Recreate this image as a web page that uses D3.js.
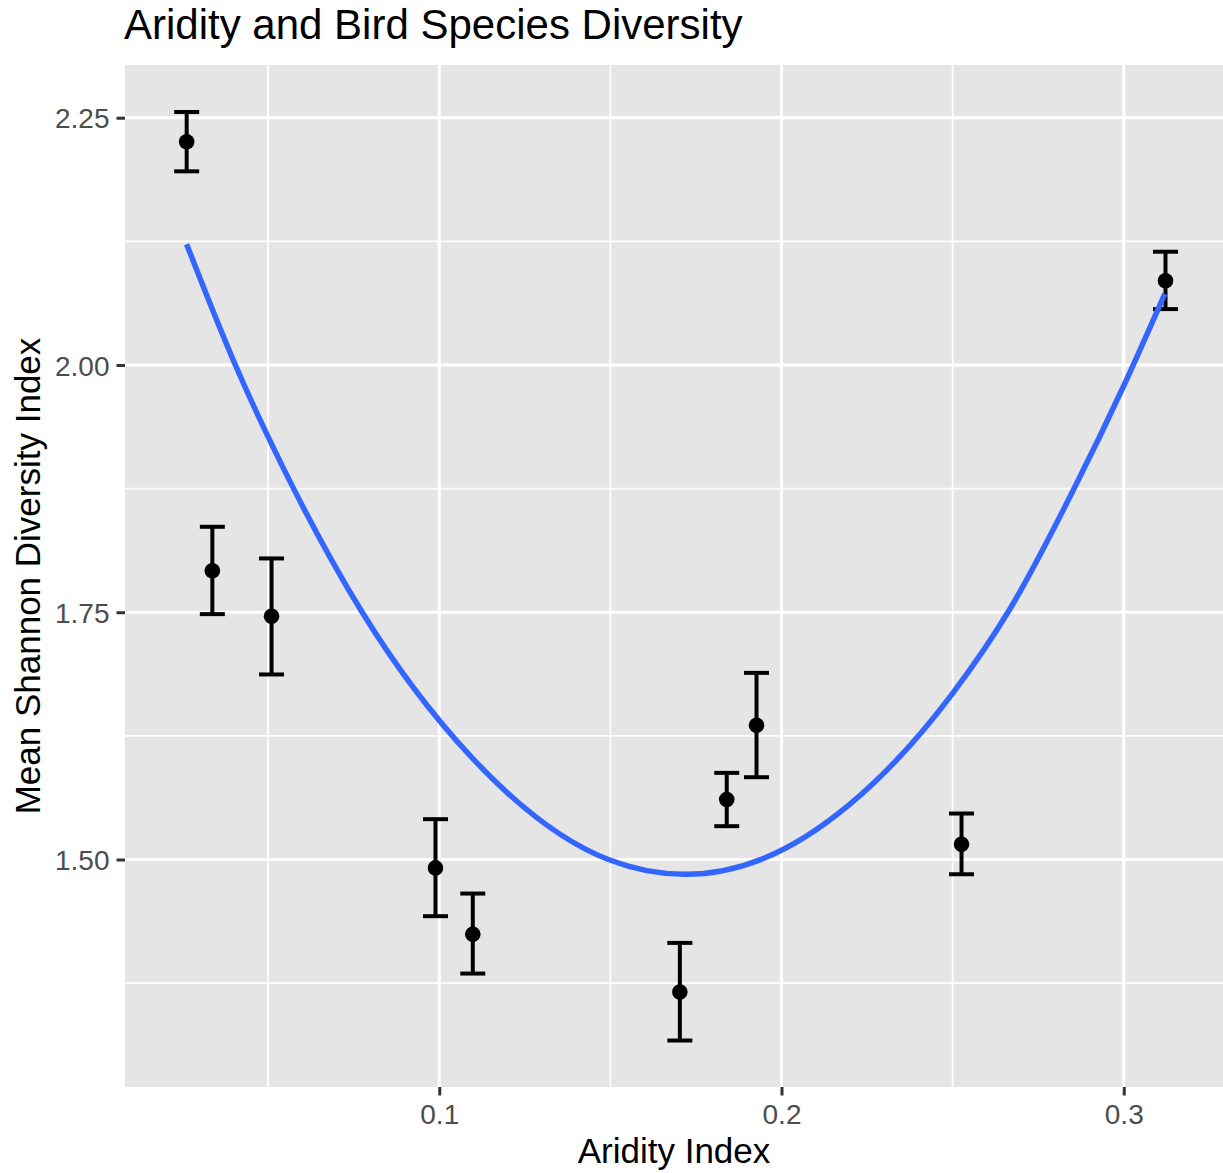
<!DOCTYPE html>
<html>
<head>
<meta charset="utf-8">
<script src="https://cdn.jsdelivr.net/npm/d3@7"></script>
<style>
  body { margin: 0; background: #fff; }
  text { font-family: "Liberation Sans", Arial, Helvetica, sans-serif; }
</style>
</head>
<body>
<svg id="chart" width="1223" height="1173"></svg>
<script>
// site means with error bar limits
const aridity = [0.0262, 0.0337, 0.0510, 0.0989, 0.1098, 0.1703, 0.1840, 0.1927, 0.2526, 0.3122];
const meanShannon = [2.2257, 1.7919, 1.7460, 1.4915, 1.4245, 1.3661, 1.5607, 1.6358, 1.5155, 2.0852];
const lower = [2.1958, 1.7481, 1.6871, 1.4427, 1.3847, 1.3170, 1.5337, 1.5832, 1.4851, 2.0565];
const upper = [2.2558, 1.8364, 1.8044, 1.5408, 1.4656, 1.4157, 1.5876, 1.6887, 1.5465, 2.1145];

// fitted curve
const fitX = [0.0262, 0.0403, 0.0573, 0.0773, 0.1090, 0.1494, 0.1718, 0.1947, 0.2200, 0.2500, 0.2667, 0.2852, 0.3000, 0.3120];
const fitY = [2.122, 2.001, 1.876, 1.751, 1.605, 1.500, 1.485, 1.501, 1.556, 1.668, 1.753, 1.873, 1.979, 2.072];

const xTicks = [0.1, 0.2, 0.3];
const xMinor = [0.05, 0.15, 0.25];
const yTicks = [1.5, 1.75, 2.0, 2.25];
const yMinor = [1.375, 1.625, 1.875, 2.125];

const panel = { left: 125, right: 1223, top: 65, bottom: 1087 };

const svg = d3.select("#chart");

const x = d3.scaleLinear().domain([0.00818, 0.3290]).range([panel.left, panel.right]);
const y = d3.scaleLinear().domain([1.270, 2.3033]).range([panel.bottom, panel.top]);

// panel background
svg.append("rect")
    .attr("x", panel.left)
    .attr("y", panel.top)
    .attr("width", panel.right - panel.left)
    .attr("height", panel.bottom - panel.top)
    .attr("fill", "#E5E5E5");

const grid = svg.append("g").attr("stroke", "#fff");

grid.selectAll(".vminor").data(xMinor).join("line")
    .attr("x1", d => x(d)).attr("x2", d => x(d))
    .attr("y1", panel.top).attr("y2", panel.bottom)
    .attr("stroke-width", 1.7);

grid.selectAll(".hminor").data(yMinor).join("line")
    .attr("y1", d => y(d)).attr("y2", d => y(d))
    .attr("x1", panel.left).attr("x2", panel.right)
    .attr("stroke-width", 1.7);

grid.selectAll(".vmajor").data(xTicks).join("line")
    .attr("x1", d => x(d)).attr("x2", d => x(d))
    .attr("y1", panel.top).attr("y2", panel.bottom)
    .attr("stroke-width", 3.2);

grid.selectAll(".hmajor").data(yTicks).join("line")
    .attr("y1", d => y(d)).attr("y2", d => y(d))
    .attr("x1", panel.left).attr("x2", panel.right)
    .attr("stroke-width", 3.2);

// axes
const xAxis = d3.axisBottom(x)
    .tickValues(xTicks)
    .tickFormat(d3.format(".1f"))
    .tickSizeInner(8.5)
    .tickSizeOuter(0)
    .tickPadding(7);

const yAxis = d3.axisLeft(y)
    .tickValues(yTicks)
    .tickFormat(d3.format(".2f"))
    .tickSizeInner(8.5)
    .tickSizeOuter(0)
    .tickPadding(7);

const gx = svg.append("g")
    .attr("transform", `translate(0,${panel.bottom})`)
    .call(xAxis);

const gy = svg.append("g")
    .attr("transform", `translate(${panel.left},0)`)
    .call(yAxis);

[gx, gy].forEach(g => {
    g.select(".domain").remove();
    g.selectAll(".tick line").attr("stroke", "#333").attr("stroke-width", 3);
    g.selectAll(".tick text")
        .attr("fill", "#4D4D4D")
        .style("font-size", "28px")
        .style("font-family", '"Liberation Sans", Arial, Helvetica, sans-serif');
});
gx.selectAll(".tick text").attr("dy", "0.76em");
gy.selectAll(".tick text").attr("dy", "0.36em");

// error bars
const idx = d3.range(aridity.length);
const capHalf = 12.5;

const bars = svg.append("g")
    .attr("stroke", "#000")
    .attr("stroke-width", 4)
    .attr("fill", "none");

bars.selectAll(".stem").data(idx).join("line")
    .attr("x1", i => x(aridity[i])).attr("x2", i => x(aridity[i]))
    .attr("y1", i => y(lower[i])).attr("y2", i => y(upper[i]));

bars.selectAll(".capTop").data(idx).join("line")
    .attr("x1", i => x(aridity[i]) - capHalf).attr("x2", i => x(aridity[i]) + capHalf)
    .attr("y1", i => y(upper[i])).attr("y2", i => y(upper[i]));

bars.selectAll(".capBottom").data(idx).join("line")
    .attr("x1", i => x(aridity[i]) - capHalf).attr("x2", i => x(aridity[i]) + capHalf)
    .attr("y1", i => y(lower[i])).attr("y2", i => y(lower[i]));

// points
svg.append("g")
    .selectAll("circle")
    .data(idx)
    .join("circle")
    .attr("cx", i => x(aridity[i]))
    .attr("cy", i => y(meanShannon[i]))
    .attr("r", 7.8)
    .attr("fill", "#000");

// smooth curve (monotoneX uses the real x spacing)
const line = d3.line()
    .x(i => x(fitX[i]))
    .y(i => y(fitY[i]))
    .curve(d3.curveMonotoneX);

svg.append("path")
    .datum(d3.range(fitX.length))
    .attr("d", line)
    .attr("fill", "none")
    .attr("stroke", "#3366FF")
    .attr("stroke-width", 5.5);

// titles
svg.append("text")
    .attr("x", 124)
    .attr("y", 39)
    .attr("fill", "#000")
    .style("font-size", "42px")
    .text("Aridity and Bird Species Diversity");

svg.append("text")
    .attr("x", (panel.left + panel.right) / 2)
    .attr("y", 1163)
    .attr("text-anchor", "middle")
    .attr("fill", "#000")
    .style("font-size", "35px")
    .text("Aridity Index");

svg.append("text")
    .attr("transform", `translate(40,${(panel.top + panel.bottom) / 2}) rotate(-90)`)
    .attr("text-anchor", "middle")
    .attr("fill", "#000")
    .style("font-size", "35px")
    .text("Mean Shannon Diversity Index");
</script>
</body>
</html>
